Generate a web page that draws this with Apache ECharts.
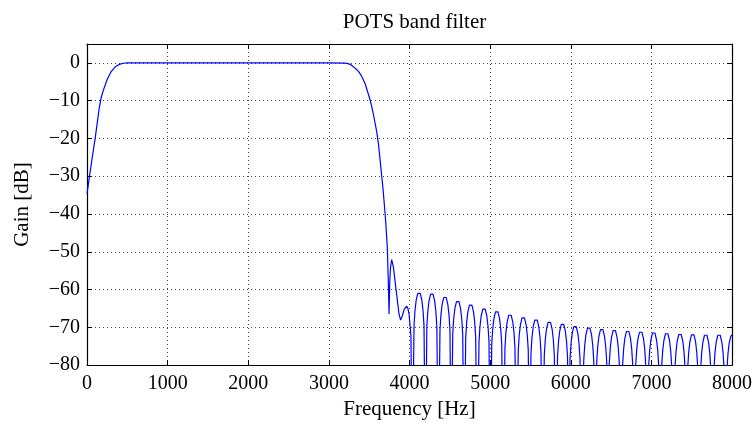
<!DOCTYPE html>
<html>
<head>
<meta charset="utf-8">
<script src="https://cdn.jsdelivr.net/npm/echarts@6/dist/echarts.min.js"></script>
<style>html,body{margin:0;padding:0;background:#fff}#c{width:755px;height:425px}</style>
</head>
<body>
<div id="c"></div>
<script>
// ---- data ----
const passbandFreq = [0, 25, 50, 75, 100, 125, 150, 175, 200, 250, 300, 350, 400, 450, 500, 600, 800, 1000, 1500, 2000, 2500, 3000, 3200];
const passbandGain = [-34.6, -30.9, -27.2, -23.6, -20.1, -16.2, -12.2, -9.3, -7.4, -4.4, -2.3, -1.05, -0.4, -0.1, 0, 0, 0.02, 0, -0.02, 0.02, 0, 0.02, -0.05];

const transitionFreq = [3240, 3270, 3303, 3340, 3370, 3400, 3430, 3450, 3470, 3490, 3510, 3530, 3550, 3572, 3593, 3615, 3634, 3655, 3675, 3690, 3705, 3725, 3737, 3746, 3755, 3765, 3779, 3800, 3825, 3850, 3870, 3890, 3910, 3935, 3950, 3965, 3980, 3995, 4018, 4035];
const transitionGain = [-0.2, -0.45, -1.0, -1.7, -2.3, -3.3, -4.6, -5.5, -6.9, -8.3, -9.7, -11.4, -13.4, -15.8, -18.2, -21.5, -25.4, -29.8, -34.2, -38.0, -42.0, -49.0, -57.7, -66.5, -58.0, -54.0, -52.1, -54.0, -58.5, -63.0, -66.5, -68.1, -67.0, -65.2, -64.7, -64.4, -65.0, -66.5, -72.5, -110];

// stopband side lobes (one row per lobe, the last value of a row is the null between lobes)
const stopbandFreq = [
  4056, 4068, 4083, 4103, 4118, 4133, 4153, 4168, 4180, 4198,
  4215, 4227, 4242, 4262, 4277, 4292, 4312, 4327, 4339, 4358,
  4378, 4390, 4405, 4425, 4440, 4455, 4475, 4490, 4502, 4519,
  4536, 4548, 4563, 4583, 4598, 4613, 4633, 4648, 4660, 4678,
  4697, 4709, 4724, 4744, 4759, 4774, 4794, 4809, 4821, 4841,
  4862, 4874, 4889, 4909, 4924, 4939, 4959, 4974, 4986, 5003,
  5020, 5032, 5047, 5067, 5082, 5097, 5117, 5132, 5144, 5164,
  5184, 5196, 5211, 5231, 5246, 5261, 5281, 5296, 5308, 5328,
  5349, 5361, 5376, 5396, 5411, 5426, 5446, 5461, 5473, 5490,
  5507, 5519, 5534, 5554, 5569, 5584, 5604, 5619, 5631, 5651,
  5672, 5684, 5699, 5719, 5734, 5749, 5769, 5784, 5796, 5816,
  5836, 5848, 5863, 5883, 5898, 5913, 5933, 5948, 5960, 5976,
  5991, 6003, 6018, 6038, 6053, 6068, 6088, 6103, 6115, 6138,
  6161, 6173, 6188, 6208, 6223, 6238, 6258, 6273, 6285, 6303,
  6322, 6334, 6349, 6369, 6384, 6399, 6419, 6434, 6446, 6462,
  6478, 6490, 6505, 6525, 6540, 6555, 6575, 6590, 6602, 6623,
  6644, 6656, 6671, 6691, 6706, 6721, 6741, 6756, 6768, 6787,
  6806, 6818, 6833, 6853, 6868, 6883, 6903, 6918, 6930, 6948,
  6967, 6979, 6994, 7014, 7029, 7044, 7064, 7079, 7091, 7110,
  7128, 7140, 7155, 7175, 7190, 7205, 7225, 7240, 7252, 7272,
  7293, 7305, 7320, 7340, 7355, 7370, 7390, 7405, 7417, 7434,
  7451, 7463, 7478, 7498, 7513, 7528, 7548, 7563, 7575, 7594,
  7612, 7624, 7639, 7659, 7674, 7689, 7709, 7724, 7736, 7756,
  7777, 7789, 7804, 7824, 7839, 7854, 7874, 7889, 7901, 7920,
  7938, 7950, 7965, 7985, 8000
];
const stopbandGain = [
  -69.6, -65.6, -62.8, -61.0, -60.6, -61.0, -62.8, -65.6, -69.6, -110,
  -69.8, -65.8, -63.0, -61.2, -60.8, -61.2, -63.0, -65.8, -69.8, -110,
  -70.7, -66.7, -63.9, -62.1, -61.7, -62.1, -63.9, -66.7, -70.7, -110,
  -71.8, -67.8, -65.0, -63.2, -62.8, -63.2, -65.0, -67.8, -71.8, -110,
  -72.7, -68.7, -65.9, -64.1, -63.7, -64.1, -65.9, -68.7, -72.7, -110,
  -73.8, -69.8, -67.0, -65.2, -64.8, -65.2, -67.0, -69.8, -73.8, -110,
  -74.5, -70.5, -67.7, -65.9, -65.5, -65.9, -67.7, -70.5, -74.5, -110,
  -75.4, -71.4, -68.6, -66.8, -66.4, -66.8, -68.6, -71.4, -75.4, -110,
  -76.1, -72.1, -69.3, -67.5, -67.1, -67.5, -69.3, -72.1, -76.1, -110,
  -76.7, -72.7, -69.9, -68.1, -67.7, -68.1, -69.9, -72.7, -76.7, -110,
  -77.3, -73.3, -70.5, -68.7, -68.3, -68.7, -70.5, -73.3, -77.3, -110,
  -77.8, -73.8, -71.0, -69.2, -68.8, -69.2, -71.0, -73.8, -77.8, -110,
  -78.4, -74.4, -71.6, -69.8, -69.4, -69.8, -71.6, -74.4, -78.4, -110,
  -78.8, -74.8, -72.0, -70.2, -69.8, -70.2, -72.0, -74.8, -78.8, -110,
  -79.2, -75.2, -72.4, -70.6, -70.2, -70.6, -72.4, -75.2, -79.2, -110,
  -79.5, -75.5, -72.7, -70.9, -70.5, -70.9, -72.7, -75.5, -79.5, -110,
  -79.7, -75.7, -72.9, -71.1, -70.7, -71.1, -72.9, -75.7, -79.7, -110,
  -79.9, -75.9, -73.1, -71.3, -70.9, -71.3, -73.1, -75.9, -79.9, -110,
  -80.1, -76.1, -73.3, -71.5, -71.1, -71.5, -73.3, -76.1, -80.1, -110,
  -80.3, -76.3, -73.5, -71.7, -71.3, -71.7, -73.5, -76.3, -80.3, -110,
  -80.5, -76.5, -73.7, -71.9, -71.5, -71.9, -73.7, -76.5, -80.5, -110,
  -80.6, -76.6, -73.8, -72.0, -71.6, -72.0, -73.8, -76.6, -80.6, -110,
  -80.7, -76.7, -73.9, -72.1, -71.7, -72.1, -73.9, -76.7, -80.7, -110,
  -80.7, -76.7, -73.9, -72.1, -71.7, -72.1, -73.9, -76.7, -80.7, -110,
  -81.0, -77.0, -74.2, -72.4, -72.0
];

const xTicks = [0, 1000, 2000, 3000, 4000, 5000, 6000, 7000, 8000];
const yTicks = [-80, -70, -60, -50, -40, -30, -20, -10, 0];

const titleText = 'POTS band filter';
const xName = 'Frequency [Hz]';
const yName = 'Gain [dB]';

// ---- build series ----
const freq = passbandFreq.concat(transitionFreq, stopbandFreq);
const gain = passbandGain.concat(transitionGain, stopbandGain);
const points = freq.map((f, i) => [f, gain[i]]);

const FONT = '"Liberation Serif","Times New Roman",serif';
const fmt = v => (v < 0 ? '\u2212' + Math.abs(v) : String(v));

const chart = echarts.init(document.getElementById('c'), null, {renderer: 'canvas'});

const axisLineStyle = {color: '#000', width: 1.2};
const gridLine = {show: true, lineStyle: {color: '#444', width: 1, type: [1, 3]}};

chart.setOption({
  animation: false,
  backgroundColor: '#fff',
  title: {
    text: titleText, left: 409.5, top: 7, textAlign: 'center',
    textStyle: {fontFamily: FONT, fontSize: 21, fontWeight: 'normal', color: '#000'}
  },
  grid: {left: 87, right: 23, top: 44, bottom: 57.5, containLabel: false},
  xAxis: [{
    type: 'value', min: xTicks[0], max: xTicks[xTicks.length - 1], interval: xTicks[1] - xTicks[0],
    position: 'bottom',
    name: xName, nameLocation: 'middle', nameGap: 33,
    nameTextStyle: {fontFamily: FONT, fontSize: 21, color: '#000'},
    axisLine: {onZero: false, lineStyle: axisLineStyle},
    axisTick: {inside: true, length: 5, lineStyle: {color: '#000'}},
    axisLabel: {margin: 9, fontFamily: FONT, fontSize: 20, color: '#000', formatter: fmt},
    splitLine: gridLine
  }, {
    type: 'value', min: xTicks[0], max: xTicks[xTicks.length - 1], interval: xTicks[1] - xTicks[0],
    position: 'top',
    axisLine: {onZero: false, lineStyle: axisLineStyle},
    axisTick: {inside: true, length: 5, lineStyle: {color: '#000'}},
    axisLabel: {show: false},
    splitLine: {show: false}
  }],
  yAxis: [{
    type: 'value', min: yTicks[0], max: 5, interval: yTicks[1] - yTicks[0],
    position: 'left',
    name: yName, nameLocation: 'middle', nameGap: 54, nameRotate: 90,
    nameTextStyle: {fontFamily: FONT, fontSize: 21, color: '#000'},
    axisLine: {onZero: false, lineStyle: axisLineStyle},
    axisTick: {inside: true, length: 5, lineStyle: {color: '#000'}},
    axisLabel: {margin: 7, fontFamily: FONT, fontSize: 20, color: '#000', formatter: fmt, showMaxLabel: false},
    splitLine: gridLine
  }, {
    type: 'value', min: yTicks[0], max: 5, interval: yTicks[1] - yTicks[0],
    position: 'right',
    axisLine: {onZero: false, lineStyle: axisLineStyle},
    axisTick: {inside: true, length: 5, lineStyle: {color: '#000'}},
    axisLabel: {show: false},
    splitLine: {show: false}
  }],
  series: [{
    type: 'line', xAxisIndex: 0, yAxisIndex: 0,
    data: points, showSymbol: false, symbol: 'none', clip: true,
    lineStyle: {color: '#0000ff', width: 1.2}
  }]
});
</script>
</body>
</html>
